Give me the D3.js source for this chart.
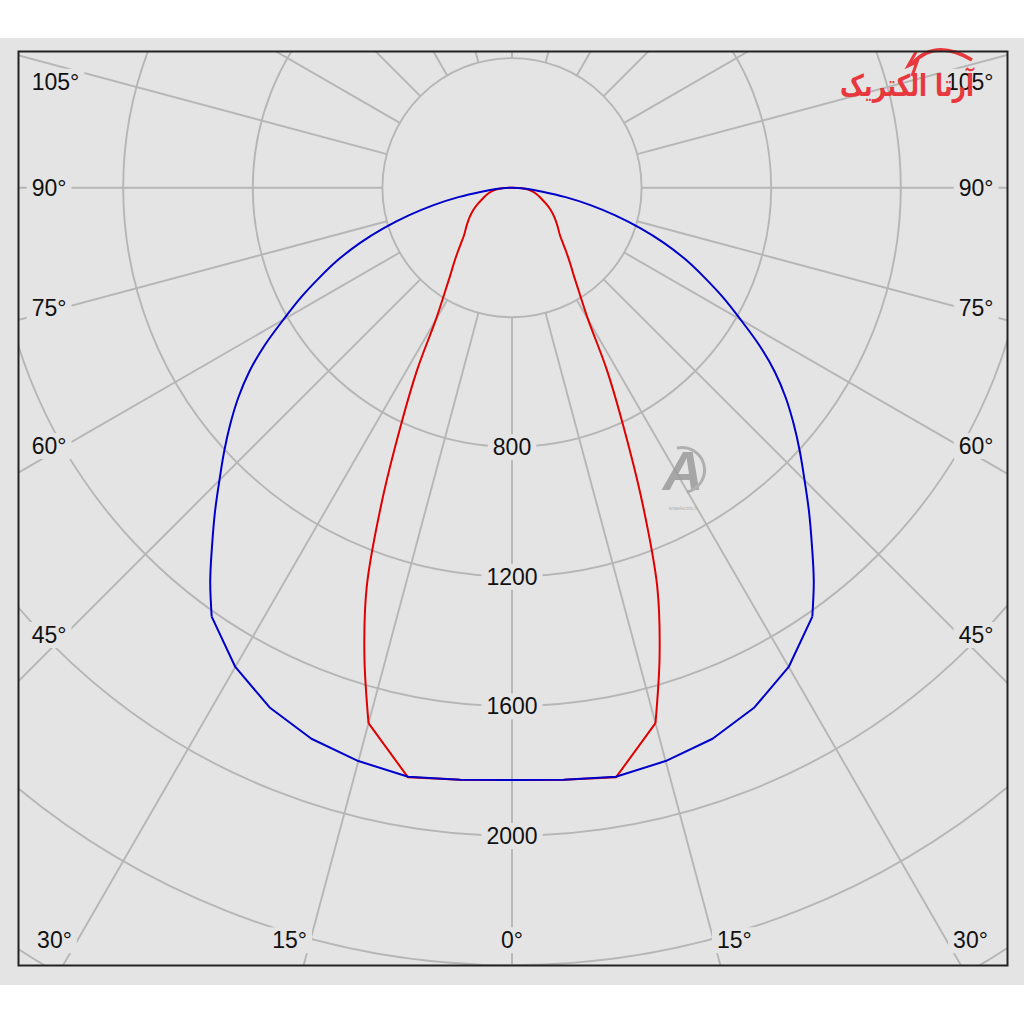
<html>
<head>
<title>Polar intensity diagram</title>
<script src="https://d3js.org/d3.v7.min.js"></script>
<style>
body { margin: 0; background: #fff; }
svg { display: block; }
text { font-family: "Liberation Sans", Arial, sans-serif; }
</style>
</head>
<body>
<svg></svg>
<script>

// half profiles (0..90 deg from nadir), mirrored for the other side
var blueAngles = [0, 5, 10, 15, 20, 25, 30, 35, 37.5, 40, 42.5, 45, 47.5, 50, 52.5, 55, 57.5, 60, 62.5, 65, 67.5, 70, 72.5, 75, 77.5, 80, 82.5, 85, 87.5, 90];
var blueValues = [1828, 1834, 1846, 1832, 1810, 1770, 1708, 1616, 1530, 1440, 1357, 1277, 1205, 1135, 1065, 990, 905, 815, 735, 655, 580, 500, 415, 330, 248, 168, 95, 50, 20, 0];
var blueKink = 35;

var redAngles = [0, 5, 10, 15, 17.5, 20, 22.5, 25, 27.5, 30, 32.5, 35, 37.5, 40, 42.5, 45, 50, 55, 60, 65, 70, 75, 80, 85, 87.5, 90];
var redValues = [1828, 1834, 1848, 1711, 1515, 1311, 1050, 815, 634, 470, 389, 334, 295, 262, 233, 210, 183, 160, 138, 115, 95, 80, 64, 44, 25, 0];
var redKink = 15;

var ringValues = [400, 800, 1200, 1600, 2000, 2400, 2800, 3200];
var ringLabels = [800, 1200, 1600, 2000];
var spokeAngles = [0, 15, 30, 45, 60, 75, 90, 105, 120, 135, 150, 165, 180];
var sideLabels = [45, 60, 75, 90, 105];
var bottomLabels = [0, 15, 30];

var width = 1024, height = 1024;
var frame = { left: 18.5, top: 51.5, right: 1007.5, bottom: 965.5 };
var cx = 512, cy = 187.7;
var bg = "#e4e4e4";
var gridColor = "#b6b6b6";

var svg = d3.select("svg").attr("width", width).attr("height", height);

var rScale = d3.scaleLinear().domain([0, 2000]).range([0, 648]);

// gray band behind everything
svg.append("rect").attr("x", 0).attr("y", 38).attr("width", width).attr("height", 947).style("fill", bg);

svg.append("clipPath").attr("id", "clip").append("rect")
.attr("x", frame.left).attr("y", frame.top)
.attr("width", frame.right - frame.left).attr("height", frame.bottom - frame.top);

var plot = svg.append("g").attr("clip-path", "url(#clip)");
var g = plot.append("g").attr("transform", "translate(" + cx + "," + cy + ")");

var rad = function (deg) { return deg * Math.PI / 180; };

// rings
g.selectAll("circle.ring").data(ringValues).enter().append("circle")
.attr("class", "ring")
.attr("r", function (d) { return rScale(d); })
.style("fill", "none").style("stroke", gridColor).style("stroke-width", 1.9);

// spokes, both sides, from the inner ring outwards
var spokes = [];
spokeAngles.forEach(function (a) {
	spokes.push(a);
	if (a > 0 && a < 180) { spokes.push(-a); }
});
g.selectAll("line.spoke").data(spokes).enter().append("line")
.attr("class", "spoke")
.attr("x1", function (d) { return rScale(400) * Math.sin(rad(d)); })
.attr("y1", function (d) { return rScale(400) * Math.cos(rad(d)); })
.attr("x2", function (d) { return rScale(3600) * Math.sin(rad(d)); })
.attr("y2", function (d) { return rScale(3600) * Math.cos(rad(d)); })
.style("stroke", gridColor).style("stroke-width", 1.9);

// labels with a background patch that hides the grid
function addLabel(x, y, str, anchor) {
	var grp = plot.append("g");
	var t = grp.append("text")
	.attr("x", x).attr("y", y).attr("dy", "0.36em")
	.attr("text-anchor", anchor)
	.style("font-size", "23px").style("fill", "#111")
	.text(str);
	var b = t.node().getBBox();
	grp.insert("rect", "text")
	.attr("x", b.x - 5).attr("y", b.y).attr("width", b.width + 10).attr("height", b.height)
	.style("fill", bg);
}

ringLabels.forEach(function (v) {
	addLabel(cx, cy + rScale(v), v, "middle");
});

sideLabels.forEach(function (a) {
	var y = cy + 447 / Math.tan(rad(a));
	if (a == 90) { y = cy; }
	y = Math.max(y, frame.top + 30);
	addLabel(frame.left + 13.2, y, a + "°", "start");
	addLabel(frame.right - 14, y, a + "°", "end");
});

bottomLabels.forEach(function (a) {
	var dx = 830 * Math.tan(rad(a));
	var y = 940;
	if (a == 0) { addLabel(cx, y, a + "°", "middle"); return; }
	addLabel(Math.max(cx - dx, frame.left + 36), y, a + "°", "middle");
	addLabel(Math.min(cx + dx, frame.right - 37), y, a + "°", "middle");
});

// mirror a half profile into a full -90..90 series
function fullSeries(angles, values) {
	var out = [];
	for (var i = angles.length - 1; i > 0; i--) { out.push({ a: -angles[i], v: values[i] }); }
	for (var j = 0; j < angles.length; j++) { out.push({ a: angles[j], v: values[j] }); }
	return out;
}

var straight = d3.lineRadial()
.angle(function (d) { return Math.PI - rad(d.a); })
.radius(function (d) { return rScale(d.v); });
var smooth = d3.lineRadial()
.angle(function (d) { return Math.PI - rad(d.a); })
.radius(function (d) { return rScale(d.v); })
.curve(d3.curveCatmullRom.alpha(0.5));

// straight segments near nadir, smooth beyond the kink angle
function drawCurve(angles, values, kink, color) {
	var s = fullSeries(angles, values);
	var parts = [
		{ pts: s.filter(function (d) { return d.a <= -kink; }), gen: smooth },
		{ pts: s.filter(function (d) { return Math.abs(d.a) <= kink; }), gen: straight },
		{ pts: s.filter(function (d) { return d.a >= kink; }), gen: smooth }
	];
	parts.forEach(function (p) {
		g.append("path").datum(p.pts)
		.attr("d", p.gen)
		.style("fill", "none").style("stroke", color).style("stroke-width", 2)
		.style("stroke-linejoin", "round");
	});
}

drawCurve(redAngles, redValues, redKink, "#e00000");
drawCurve(blueAngles, blueValues, blueKink, "#0000cc");

// watermark
var wm = svg.append("g").attr("transform", "translate(683,468)").style("opacity", 0.85);
wm.append("text").attr("text-anchor", "middle").attr("y", 22)
.style("font-size", "56px").style("font-weight", "bold").style("font-style", "italic").style("fill", "#9c9c9c").text("A");
wm.append("path").attr("d", "M -6,-20 A 21 21 0 1 1 4,24")
.style("fill", "none").style("stroke", "#a8a8a8").style("stroke-width", 3);
wm.append("text").attr("text-anchor", "middle").attr("y", 42)
.style("font-size", "5px").style("fill", "#aaa").text("artaelectric.ir");

// logo
var logo = svg.append("g");
logo.append("path").attr("d", "M 912,64 Q 935,38 972,60")
.style("fill", "none").style("stroke", "#e8383d").style("stroke-width", 3.5);
logo.append("path").attr("d", "M 916,52 L 908,66 L 917,62 L 912,76")
.style("fill", "none").style("stroke", "#e8383d").style("stroke-width", 3);
logo.append("text")
.attr("x", 907).attr("y", 96)
.attr("text-anchor", "middle")
.attr("textLength", 134).attr("lengthAdjust", "spacingAndGlyphs")
.style("font-family", "'DejaVu Sans', sans-serif")
.style("font-size", "30px").style("font-weight", "bold").style("fill", "#e8383d")
.text("آرتا الکتریک");

// frame
svg.append("rect")
.attr("x", frame.left).attr("y", frame.top)
.attr("width", frame.right - frame.left).attr("height", frame.bottom - frame.top)
.style("fill", "none").style("stroke", "#222").style("stroke-width", 2);

</script>
</body>
</html>
